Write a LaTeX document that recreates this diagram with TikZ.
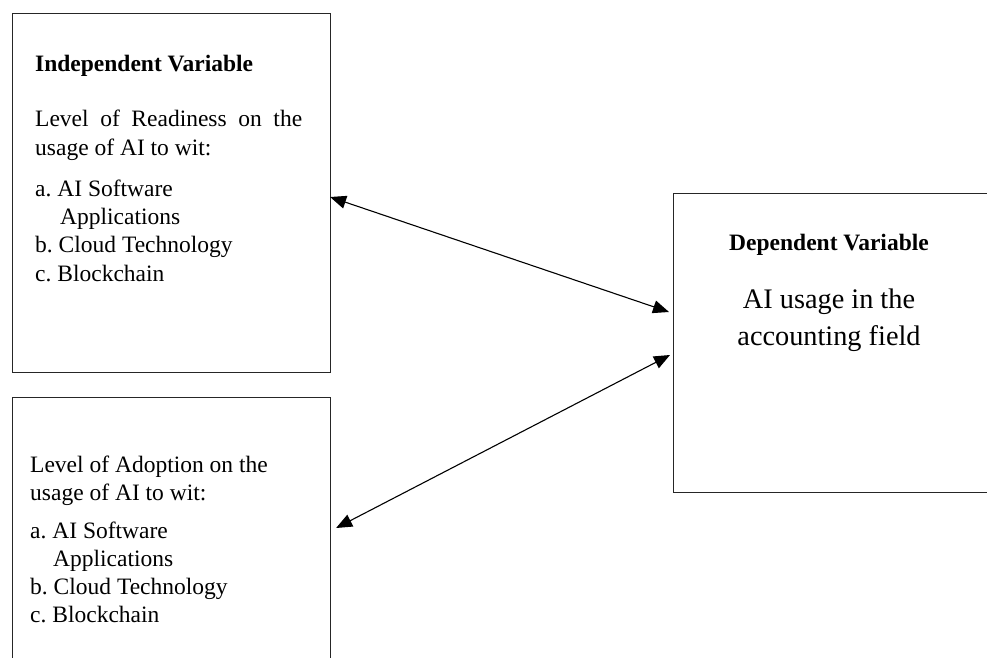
\documentclass[tikz,border=0pt]{standalone}
\usepackage{fontspec}
\setmainfont{Liberation Serif}
\usetikzlibrary{arrows.meta}
\frenchspacing
\tikzset{
  varbox/.style={draw=black!85, line width=1.1pt, inner sep=0pt, anchor=north west},
  txt/.style={inner sep=0pt, anchor=base west, font=\fontsize{23.5}{28}\selectfont},
  ctxt/.style={inner sep=0pt, anchor=base, font=\fontsize{23.5}{28}\selectfont},
  bigtxt/.style={inner sep=0pt, anchor=base, font=\fontsize{28.3}{37}\selectfont},
  link/.style={line width=1.1pt, {Triangle[length=16pt,width=13pt]}-{Triangle[length=16pt,width=13pt]}}
}
\begin{document}
\begin{tikzpicture}[x=1pt,y=-1pt]
\useasboundingbox (0,0) rectangle (987,658);
\clip (0,0) rectangle (987,658);
% boxes
\node[varbox, minimum width=318pt, minimum height=359pt] (b1) at (12,13) {};
\node[varbox, minimum width=318pt, minimum height=300pt] (b2) at (12,397) {};
\node[varbox, minimum width=322pt, minimum height=299pt] (b3) at (673,193) {};
% box 1 text
\node[txt, font=\fontsize{23.5}{28}\selectfont\bfseries] (h1) at (35,72) {Independent Variable};
\node[txt] (r1) at (35,127) {\makebox[267pt][s]{Level of Readiness on the}};
\node[txt] (r2) at (35,155) {usage of AI to wit:};
\node[txt] (r3) at (35,196) {a. AI Software};
\node[txt] (r4) at (60,224) {Applications};
\node[txt] (r5) at (35,252) {b. Cloud Technology};
\node[txt] (r6) at (35,281) {c. Blockchain};
% box 2 text
\node[txt] (s1) at (30,472) {Level of Adoption on the};
\node[txt] (s2) at (30,500) {usage of AI to wit:};
\node[txt] (s3) at (30,538) {a. AI Software};
\node[txt] (s4) at (53,566) {Applications};
\node[txt] (s5) at (30,594) {b. Cloud Technology};
\node[txt] (s6) at (30,622) {c. Blockchain};
% box 3 text
\node[ctxt, font=\fontsize{23.5}{28}\selectfont\bfseries] (h3) at (829,250) {Dependent Variable};
\node[bigtxt] (d1) at (829,308) {AI usage in the};
\node[bigtxt] (d2) at (829,345) {accounting field};
% connector end points on the box edges
\path (b1.north east) ++(-1,184) coordinate (p1);
\path (b3.north west) ++(-4,119) coordinate (q1);
\path (b3.north west) ++(-3,162) coordinate (q2);
\path (b2.north east) ++(5,131) coordinate (p2);
\draw[link] (p1) -- (q1);
\draw[link] (p2) -- (q2);
\end{tikzpicture}
\end{document}
